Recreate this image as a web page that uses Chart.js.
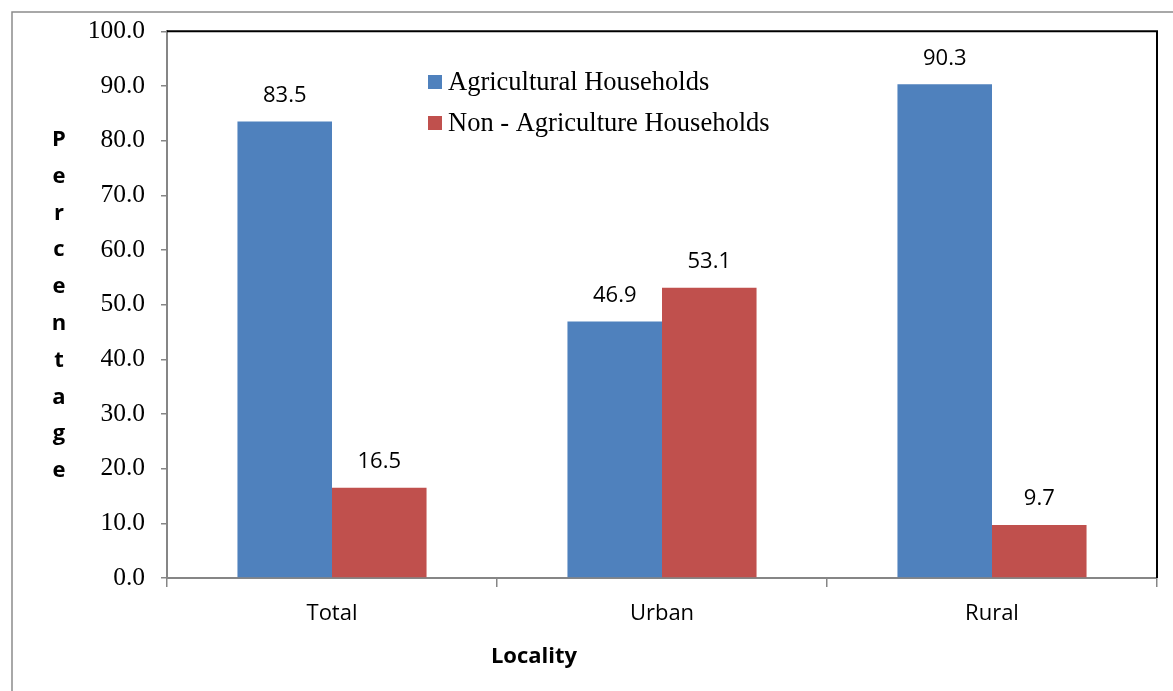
<!DOCTYPE html>
<html>
<head>
<meta charset="utf-8">
<title>Agricultural vs Non-Agriculture Households</title>
<script src="https://cdn.jsdelivr.net/npm/chart.js@4.4.1/dist/chart.umd.min.js"></script>
<style>
  html, body { margin: 0; padding: 0; background: #fff; }
  #wrap { width: 1173px; height: 691px; position: relative; }
</style>
</head>
<body>
<div id="wrap"><canvas id="chart" width="1173" height="691"></canvas></div>
<script>
// --- data ---
const localities = ['Total', 'Urban', 'Rural'];
const agricultural = [83.5, 46.9, 90.3];
const nonAgricultural = [16.5, 53.1, 9.7];
const seriesNames = ['Agricultural Households', 'Non - Agriculture Households'];
const yTitle = 'Percentage';
const xTitle = 'Locality';

const BLUE = '#4F81BD';
const RED = '#C0504D';
const AXIS_GREY = '#868686';
const SERIF = '"Liberation Serif", "Times New Roman", serif';
const SANS = '"Open Sans", "Noto Sans", sans-serif';

// frame, plot border, value labels, legend and axis titles
const decorations = {
  id: 'decorations',
  beforeDatasetsDraw(chart) {
    const { ctx, chartArea: a } = chart;
    ctx.save();
    // outer frame (top and left edges only are in view)
    ctx.strokeStyle = '#8c8c8c';
    ctx.lineWidth = 1.5;
    ctx.beginPath();
    ctx.moveTo(12, chart.height);
    ctx.lineTo(12, 12);
    ctx.lineTo(chart.width, 12);
    ctx.stroke();
    // plot area top/right border
    ctx.strokeStyle = '#000';
    ctx.lineWidth = 2;
    ctx.beginPath();
    ctx.moveTo(a.left, a.top);
    ctx.lineTo(a.right, a.top);
    ctx.lineTo(a.right, a.bottom);
    ctx.stroke();
    ctx.restore();
  },
  afterDatasetsDraw(chart) {
    const { ctx } = chart;
    ctx.save();

    // value labels above bars
    ctx.fillStyle = '#000';
    ctx.font = '22px ' + SANS;
    ctx.textAlign = 'center';
    ctx.textBaseline = 'middle';
    chart.data.datasets.forEach((ds, i) => {
      chart.getDatasetMeta(i).data.forEach((bar, j) => {
        ctx.fillText(ds.data[j].toFixed(1), bar.x, bar.y - 26);
      });
    });

    // legend
    const legendX = 428, legendRows = [82, 123];
    ctx.font = '26.5px ' + SERIF;
    ctx.textAlign = 'left';
    chart.data.datasets.forEach((ds, i) => {
      const y = legendRows[i];
      ctx.fillStyle = ds.backgroundColor;
      ctx.fillRect(legendX, y - 7, 14, 14);
      ctx.fillStyle = '#000';
      ctx.fillText(ds.label, legendX + 20, y + 1);
    });

    // y title, one letter per line
    ctx.font = 'bold 22px ' + SANS;
    ctx.textAlign = 'center';
    ctx.textBaseline = 'alphabetic';
    [...yTitle].forEach((ch, i) => {
      ctx.fillText(ch, 59, 146 + i * 36.8);
    });

    // x title
    ctx.textBaseline = 'middle';
    ctx.fillText(xTitle, 534, 657);
    ctx.restore();
  }
};

new Chart(document.getElementById('chart'), {
  type: 'bar',
  data: {
    labels: localities,
    datasets: [
      { label: seriesNames[0], data: agricultural, backgroundColor: BLUE },
      { label: seriesNames[1], data: nonAgricultural, backgroundColor: RED }
    ]
  },
  options: {
    responsive: false,
    animation: false,
    layout: { padding: { top: 30, right: 16, left: 0, bottom: 0 } },
    datasets: { bar: { categoryPercentage: 0.573, barPercentage: 1.0 } },
    plugins: { legend: { display: false }, tooltip: { enabled: false } },
    scales: {
      x: {
        afterFit(scale) { scale.height = 113; },
        grid: { offset: true, drawOnChartArea: false, tickLength: 9, color: AXIS_GREY, lineWidth: 1.5 },
        border: { color: AXIS_GREY, width: 2 },
        ticks: { color: '#000', font: { family: SANS, size: 22 }, padding: 14 }
      },
      y: {
        min: 0,
        max: 100,
        afterFit(scale) { scale.width = 167; },
        grid: { drawOnChartArea: false, tickLength: 6, color: AXIS_GREY, lineWidth: 1.5 },
        border: { color: AXIS_GREY, width: 2 },
        ticks: {
          stepSize: 10,
          color: '#000',
          padding: 16,
          font: { family: SERIF, size: 25.5 },
          callback: v => v.toFixed(1)
        }
      }
    }
  },
  plugins: [decorations]
});
</script>
</body>
</html>
